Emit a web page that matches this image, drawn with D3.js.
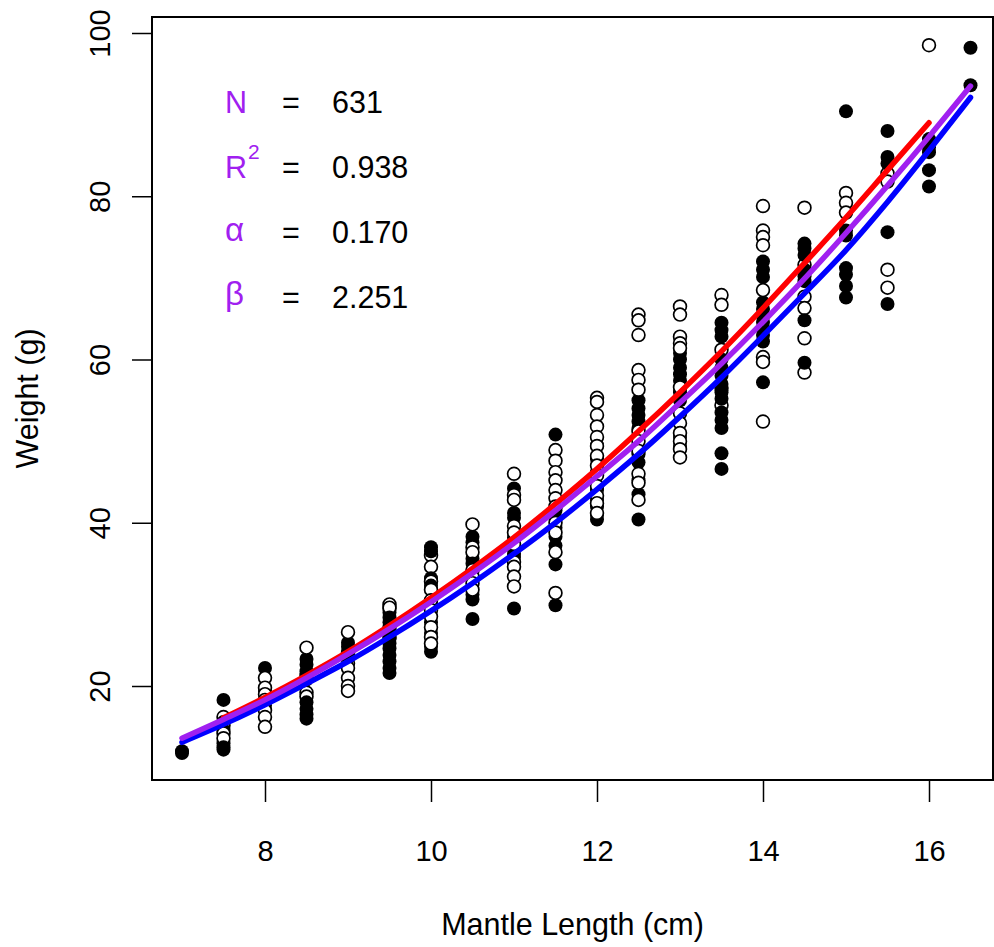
<!DOCTYPE html>
<html>
<head>
<meta charset="utf-8">
<script src="https://cdn.jsdelivr.net/npm/d3@7"></script>
<style>
  body { margin: 0; background: #fff; }
  svg text { font-family: "Liberation Sans", Arial, sans-serif; }
</style>
</head>
<body>
<div class="chart"></div>
<script>
// mantle length columns (cm)
var lengths = [7, 7.5, 8, 8.5, 9, 9.5, 10, 10.5, 11, 11.5, 12, 12.5, 13, 13.5, 14, 14.5, 15, 15.5, 16, 16.5];

// weights (g) read per column, open and filled symbols
var openW = [
  [],
  [16.2, 15.2, 14.2, 13.6],
  [21.0, 19.8, 19.0, 18.3, 17.0, 16.2, 15.0],
  [24.7, 21.3, 19.2, 18.7],
  [26.6, 24.0, 22.8, 22.2, 21.0, 20.0, 19.4],
  [30.0, 29.6, 27.2, 26.0],
  [36.0, 34.6, 32.8, 31.8, 30.5, 29.3, 28.5, 27.2, 26.0, 25.2],
  [39.8, 37.0, 36.4, 34.2, 33.4, 32.6, 31.8],
  [46.0, 43.4, 42.8, 39.6, 38.8, 37.4, 35.2, 34.6, 33.4, 32.2],
  [48.9, 47.6, 46.2, 45.2, 44.0, 43.0, 42.0, 40.0, 38.8, 36.4, 31.4],
  [55.3, 54.8, 53.2, 51.8, 50.5, 49.4, 48.2, 47.0, 45.8, 44.5, 43.3, 42.4, 41.2],
  [65.5, 64.8, 63.0, 58.7, 57.5, 56.3, 51.2, 50.0, 48.8, 46.0, 44.9, 42.8],
  [66.5, 65.5, 62.8, 62.0, 61.4, 56.6, 53.4, 52.2, 51.0, 50.0, 49.0, 48.0],
  [67.9, 66.7, 61.2, 56.5, 54.4],
  [78.8, 75.8, 75.0, 74.0, 68.5, 60.3, 59.7, 52.4],
  [78.6, 71.6, 67.7, 66.3, 62.6, 58.4],
  [80.4, 79.2, 78.0],
  [82.8, 81.8, 71.0, 68.8],
  [98.5],
  []
];
var filledW = [
  [11.8, 12.0],
  [18.3, 15.6, 14.6, 13.0, 12.5, 12.2],
  [22.2, 19.3, 17.6],
  [23.3, 22.6, 21.8, 20.8, 18.0, 17.2, 16.5, 16.0],
  [25.3, 24.8, 24.2, 23.5],
  [29.5, 29.0, 28.4, 27.8, 26.8, 25.8, 25.2, 24.6, 23.8, 23.0, 22.2, 21.6],
  [37.0, 36.5, 33.2, 32.3, 30.0, 27.8, 26.5, 24.8, 24.2],
  [38.3, 37.6, 35.6, 35.0, 33.0, 31.2, 30.6, 28.2],
  [44.2, 41.2, 40.6, 38.2, 36.8, 36.2, 35.8, 29.5],
  [50.8, 41.5, 40.6, 39.4, 38.3, 37.2, 34.9, 29.9],
  [49.5, 47.8, 46.2, 44.0, 42.8, 42.0, 41.0, 40.4],
  [55.0, 54.0, 53.2, 52.4, 51.6, 50.5, 48.4, 47.4, 45.2, 43.5, 40.4],
  [60.8, 60.0, 59.0, 58.2, 57.4, 56.0, 55.0, 50.5, 49.4],
  [64.5, 63.6, 62.8, 60.0, 59.0, 58.0, 57.0, 56.0, 55.2, 53.5, 52.6, 51.6, 48.5, 46.6],
  [72.0, 71.0, 70.1, 67.0, 66.2, 65.4, 64.6, 63.8, 63.0, 62.2, 57.2],
  [74.2, 73.6, 72.8, 71.0, 70.2, 69.6, 64.8, 59.6],
  [90.4, 75.8, 75.2, 71.2, 70.4, 69.0, 67.6],
  [88.0, 84.8, 84.0, 75.6, 66.8],
  [87.0, 86.0, 85.4, 83.2, 81.2],
  [98.2, 93.6]
];

// fitted curves
var redCurve    = [null, 16.1, 18.6, 21.3, 24.2, 27.4, 30.8, 34.4, 38.2, 42.3, 46.6, 51.2, 56.0, 61.0, 66.3, 71.8, 77.4, 83.2, 89.0, null];
var purpleCurve = [13.6, 15.9, 18.3, 21.0, 23.9, 27.0, 30.3, 33.8, 37.5, 41.5, 45.7, 50.0, 54.7, 59.5, 64.6, 69.9, 75.5, 81.3, 87.3, 93.5];
var blueCurve   = [13.1, 15.3, 17.7, 20.3, 23.0, 26.0, 29.2, 32.6, 36.2, 40.0, 44.1, 48.4, 53.0, 57.8, 62.9, 68.1, 73.4, 79.3, 85.6, 92.1];

var xTicks = [8, 10, 12, 14, 16];
var yTicks = [20, 40, 60, 80, 100];

var statLabels = ["N", "R", "\u03b1", "\u03b2"];
var statValues = ["631", "0.938", "0.170", "2.251"];

var width = 994,
    height = 947,
    box = {left: 152, top: 17, right: 993, bottom: 780};

var x = d3.scaleLinear().domain([7, 16]).range([182, 929]);
var y = d3.scaleLinear().domain([20, 100]).range([686, 33]);

var svg = d3.select(".chart").append("svg")
    .attr("width", width)
    .attr("height", height);

// points
var pts = [];
lengths.forEach(function(l, i) {
  var o = openW[i], f = filledW[i], n = Math.max(o.length, f.length);
  for (var k = 0; k < n; k++) {
    if (k < f.length) pts.push({x: l, y: f[k], filled: true});
    if (k < o.length) pts.push({x: l, y: o[k], filled: false});
  }
});

svg.append("g").selectAll("circle")
    .data(pts)
    .enter().append("circle")
    .attr("cx", function(d) { return x(d.x); })
    .attr("cy", function(d) { return y(d.y); })
    .attr("r", function(d) { return d.filled ? 7 : 6.4; })
    .attr("fill", function(d) { return d.filled ? "#000" : "#fff"; })
    .attr("stroke", "#000")
    .attr("stroke-width", function(d) { return d.filled ? 0 : 1.7; });

// curves
var line = d3.line()
    .defined(function(d) { return d[1] != null; })
    .x(function(d) { return x(d[0]); })
    .y(function(d) { return y(d[1]); })
    .curve(d3.curveMonotoneX);

[[blueCurve, "#0000FF"], [redCurve, "#FF0000"], [purpleCurve, "#A020F0"]].forEach(function(c) {
  svg.append("path")
      .datum(lengths.map(function(l, i) { return [l, c[0][i]]; }))
      .attr("fill", "none")
      .attr("stroke", c[1])
      .attr("stroke-width", 5.5)
      .attr("stroke-linecap", "round")
      .attr("stroke-linejoin", "round")
      .attr("d", line);
});

// box
svg.append("rect")
    .attr("x", box.left)
    .attr("y", box.top)
    .attr("width", box.right - box.left)
    .attr("height", box.bottom - box.top)
    .attr("fill", "none")
    .attr("stroke", "#000")
    .attr("stroke-width", 2);

// x axis
var xa = svg.append("g").attr("transform", "translate(0," + box.bottom + ")")
    .call(d3.axisBottom(x).tickValues(xTicks).tickSize(22).tickPadding(0).tickFormat(d3.format("d")));
xa.select(".domain").attr("d", "M" + x(8) + ",0H" + x(16)).attr("stroke-width", 2);
xa.selectAll(".tick line").attr("stroke-width", 1.5);
xa.selectAll(".tick text").attr("font-size", "29px").attr("fill", "#000").attr("dy", null).attr("y", 81);

// y axis
var ya = svg.append("g").attr("transform", "translate(" + box.left + ",0)")
    .call(d3.axisLeft(y).tickValues(yTicks).tickSize(20).tickFormat(d3.format("d")));
ya.select(".domain").attr("d", "M0," + y(20) + "V" + y(100)).attr("stroke-width", 2);
ya.selectAll(".tick line").attr("stroke-width", 1.5);
ya.selectAll(".tick text")
    .attr("font-size", "29px")
    .attr("fill", "#000")
    .attr("x", null).attr("dy", null)
    .attr("text-anchor", "middle")
    .attr("transform", "translate(-42,0) rotate(-90)");

// axis titles
svg.append("text")
    .attr("x", (box.left + box.right) / 2)
    .attr("y", 935)
    .attr("text-anchor", "middle")
    .attr("font-size", "30.5px")
    .text("Mantle Length (cm)");

svg.append("text")
    .attr("transform", "translate(38," + (box.top + box.bottom) / 2 + ") rotate(-90)")
    .attr("text-anchor", "middle")
    .attr("font-size", "30.5px")
    .text("Weight (g)");

// fit statistics
var rowBase = [113, 178, 243, 308];
var labBase = [113, 178, 241, 305];
statLabels.forEach(function(s, i) {
  var t = svg.append("text")
      .attr("x", 225)
      .attr("y", labBase[i])
      .attr("font-size", i >= 2 ? "33px" : "30.5px")
      .attr("fill", "#A020F0")
      .text(s);
  if (i == 1) {
    t.append("tspan").attr("font-size", "21px").attr("dy", -19).attr("dx", 1).text("2");
  }
  svg.append("text")
      .attr("x", 282)
      .attr("y", rowBase[i])
      .attr("font-size", "30.5px")
      .text("=");
  svg.append("text")
      .attr("x", 332)
      .attr("y", rowBase[i])
      .attr("font-size", "30.5px")
      .text(statValues[i]);
});
</script>
</body>
</html>
